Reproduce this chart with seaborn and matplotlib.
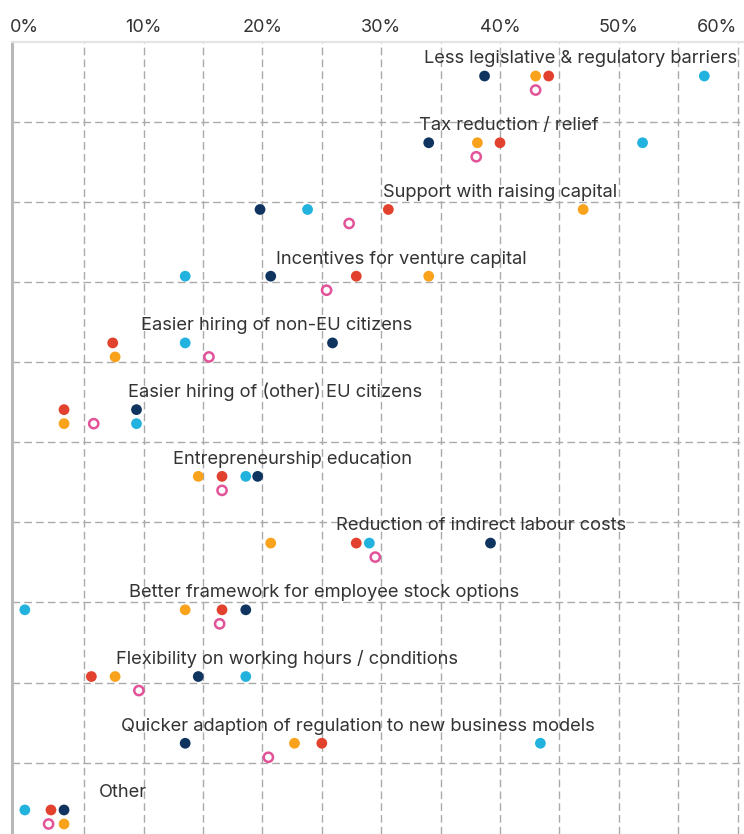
import matplotlib.pyplot as plt
import seaborn as sns
import pandas as pd
import numpy as np

# Policy demands, share of respondents (%)
categories = [
    'Less legislative & regulatory barriers',
    'Tax reduction / relief',
    'Support with raising capital',
    'Incentives for venture capital',
    'Easier hiring of non-EU citizens',
    'Easier hiring of (other) EU citizens',
    'Entrepreneurship education',
    'Reduction of indirect labour costs',
    'Better framework for employee stock options',
    'Flexibility on working hours / conditions',
    'Quicker adaption of regulation to new business models',
    'Other',
]
navy = [38.7, 34.0, 19.8, 20.7, 25.9, 9.4, 19.6, 39.2, 18.6, 14.6, 13.5, 3.3]
orange = [43.0, 38.1, 47.0, 34.0, 7.6, 3.3, 14.6, 20.7, 13.5, 7.6, 22.7, 3.3]
red = [44.1, 40.0, 30.6, 27.9, 7.4, 3.3, 16.6, 27.9, 16.6, 5.6, 25.0, 2.2]
cyan = [57.2, 52.0, 23.8, 13.5, 13.5, 9.4, 18.6, 29.0, 0.0, 18.6, 43.4, 0.0]
average = [43.0, 38.0, 27.3, 25.4, 15.5, 5.8, 16.6, 29.5, 16.4, 9.6, 20.5, 2.0]

tick_values = [0, 10, 20, 30, 40, 50, 60]

# layout: where each category label is centred (in % units)
label_x = [46.8, 40.7, 40.0, 31.7, 21.2, 21.1, 22.5, 38.4, 25.2, 22.1, 28.0, 8.3]

palette = {'navy': '#0f3460', 'orange': '#f9a21b', 'red': '#e1412d',
           'cyan': '#22b2de', 'average': '#e2539a'}

# stack dots downwards when they would overlap inside a row
series = [('navy', navy), ('red', red), ('orange', orange), ('cyan', cyan), ('average', average)]
step = 0.21
records = []
for i, cat in enumerate(categories):
    placed = []
    for name, vals in series:
        x = vals[i]
        lvl = 1 if name == 'average' else 0
        while any(abs(x - px) < 0.9 and lvl == pl for px, pl in placed):
            lvl += 1
        placed.append((x, lvl))
        records.append({'category': cat, 'series': name, 'value': x, 'row': i + lvl * step})
df = pd.DataFrame(records)

sns.set_style('white')
plt.rcParams['font.family'] = ['Inter', 'DejaVu Sans']
text_color = '#333333'

fig = plt.figure(figsize=(7.44, 8.34), dpi=100)
ax = fig.add_axes([12 / 744, 0, 732 / 744, 792 / 834])

filled = df[df['series'] != 'average']
sns.scatterplot(data=filled, x='value', y='row', hue='series', palette=palette,
                s=60, linewidth=0, legend=False, ax=ax, zorder=3)
sns.scatterplot(data=df[df['series'] == 'average'], x='value', y='row', marker='o',
                s=44, facecolor='none', edgecolor=palette['average'], linewidth=1.8,
                legend=False, ax=ax, zorder=3)

for i, cat in enumerate(categories):
    ax.text(label_x[i], i - 0.19, cat, ha='center', va='baseline', fontsize=13.2,
            color=text_color, zorder=4)

ax.set_xlim(-1.08, 60.54)
ax.set_ylim(11.36, -0.51)

ax.xaxis.tick_top()
ax.set_xticks(tick_values)
ax.set_xticklabels([f'{v}%' for v in tick_values])
ax.get_xticklabels()[-1].set_horizontalalignment('right')
ax.set_xticks(np.arange(5, 61, 5), minor=True)
ax.xaxis.remove_overlapping_locs = False
ax.set_yticks([])
ax.set_yticks(-0.51 + 1.2 * np.arange(1, 10), minor=True)
ax.tick_params(which='both', length=0)
ax.tick_params(axis='x', which='major', pad=4, labelsize=13, labelcolor=text_color)
ax.grid(which='minor', color='#aaaaaa', linestyle=(0, (5.5, 3)), linewidth=1.0)
ax.grid(which='major', visible=False)
ax.set_xlabel('')
ax.set_ylabel('')

for side in ['right', 'bottom']:
    ax.spines[side].set_visible(False)
ax.spines['top'].set_color('#e4e4e4')
ax.spines['top'].set_linewidth(1.6)
ax.spines['left'].set_color('#b8b8b8')
ax.spines['left'].set_linewidth(2.2)

fig.savefig('out.png', dpi=100)
